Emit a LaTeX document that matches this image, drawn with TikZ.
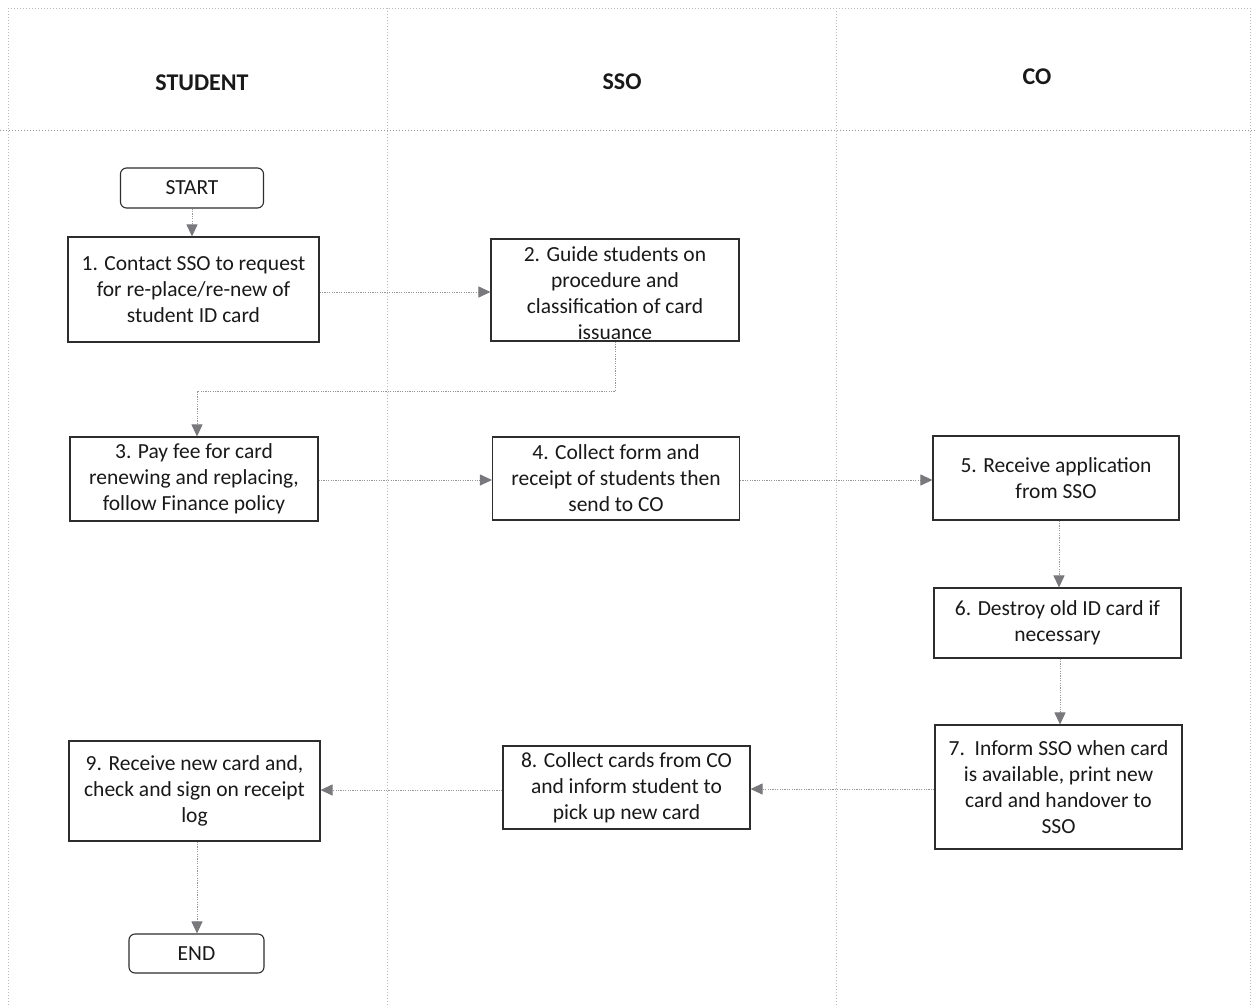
\documentclass[tikz,border=0pt]{standalone}
\usepackage{fontspec}
\setmainfont{Carlito}
\usetikzlibrary{arrows.meta}
\definecolor{ink}{RGB}{25,25,25}
\definecolor{boxline}{RGB}{45,45,45}
\definecolor{conncol}{RGB}{150,150,150}
\definecolor{arrowcol}{RGB}{120,120,125}
\definecolor{lanecol}{RGB}{185,185,185}
\begin{document}
\begin{tikzpicture}[x=1pt,y=-1pt,
  every node/.style={text=ink},
  body/.style={font=\fontsize{21.5}{26}\selectfont},
  hdr/.style={font=\fontsize{24}{28}\selectfont\bfseries},
  box/.style={draw=boxline, line width=1.1pt, align=center, inner sep=0pt, body},
  term/.style={box, rounded corners=6pt},
  conn/.style={draw=conncol, line width=0.9pt, dash pattern=on 1.2pt off 1.2pt,
    -{Triangle[length=12pt,width=11pt,fill=arrowcol,color=arrowcol]}},
  lane/.style={draw=lanecol, line width=0.6pt, dash pattern=on 1pt off 2pt}
]
\useasboundingbox (0,0) rectangle (1256,1007);
\fill[white] (0,0) rectangle (1256,1007);

% swimlane frame
\draw[lane] (8,8) -- (1250,8);
\draw[lane] (8,8) -- (8,1007);
\draw[lane] (1250,8) -- (1250,1007);
\draw[lane] (387,8) -- (387,1007);
\draw[lane] (836,8) -- (836,1007);
\draw[lane, draw=conncol, line width=0.8pt] (0,130) -- (1256,130);

% headers
\node[hdr] (hs) at (202,83) {STUDENT};
\node[hdr] (hsso) at (622,82) {SSO};
\node[hdr] (hco) at (1037,77) {CO};

% nodes
\node[term, minimum width=143pt, minimum height=40pt] (start) at (192,188) {START};
\node[box, minimum width=251pt, minimum height=105pt] (b1) at (193.5,289.5)
  {1. Contact SSO to request\\for re-place/re-new of\\student ID card};
\node[box, minimum width=248pt, minimum height=102pt] (b2) at (615,290) {};
\node[body, align=center, inner sep=0pt] (t2) at (615,293)
  {2. Guide students on\\procedure and\\classification of card\\issuance};
\node[box, minimum width=248pt, minimum height=84pt] (b3) at (194,479)
  {3. Pay fee for card\\renewing and replacing,\\follow Finance policy};
\node[box, minimum width=247pt, minimum height=83pt] (b4) at (616,478.5)
  {4. Collect form and\\receipt of students then\\send to CO};
\node[box, minimum width=246pt, minimum height=84pt] (b5) at (1056,478)
  {5. Receive application\\from SSO};
\node[box, minimum width=247pt, minimum height=70pt] (b6) at (1057.5,623)
  {6. Destroy old ID card if\\necessary};
\node[box, minimum width=247pt, minimum height=124pt] (b7) at (1058.5,787)
  {7.\ \ Inform SSO when card\\is available, print new\\card and handover to\\SSO};
\node[box, minimum width=247pt, minimum height=83pt] (b8) at (626.5,787.5)
  {8. Collect cards from CO\\and inform student to\\pick up new card};
\node[box, minimum width=251pt, minimum height=100pt] (b9) at (194.5,791)
  {9. Receive new card and,\\check and sign on receipt\\log};
\node[term, minimum width=135pt, minimum height=39pt] (end) at (196.5,953.5) {END};

% connectors
\draw[conn] (start.south) -- (start.south |- b1.north);
\draw[conn] (b1.east |- 0,292) -- (b2.west |- 0,292);
\draw[conn] (b2.south) -- ++(0,50) -| ([xshift=3pt]b3.north);
\draw[conn] (b3.east |- 0,480) -- (b4.west |- 0,480);
\draw[conn] (b4.east |- 0,480) -- (b5.west |- 0,480);
\draw[conn] ([xshift=3pt]b5.south) -- ([xshift=3pt]b5.south |- b6.north);
\draw[conn] ([xshift=2.5pt]b6.south) -- ([xshift=2.5pt]b6.south |- b7.north);
\draw[conn] (b7.west |- 0,789) -- (b8.east |- 0,789);
\draw[conn] (b8.west |- 0,790) -- (b9.east |- 0,790);
\draw[conn] ([xshift=2.5pt]b9.south) -- ([xshift=2.5pt]b9.south |- end.north);
\end{tikzpicture}
\end{document}
